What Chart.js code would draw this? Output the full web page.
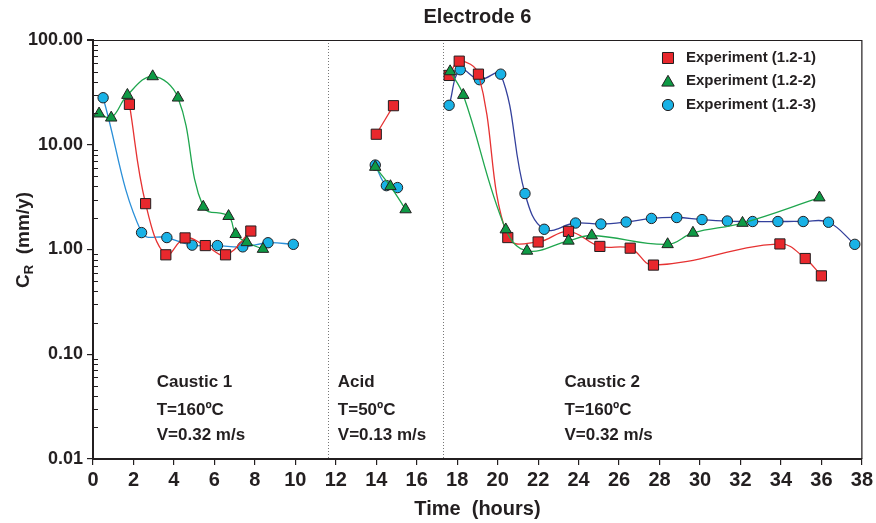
<!DOCTYPE html>
<html><head><meta charset="utf-8">
<script src="https://cdn.jsdelivr.net/npm/chart.js@4.4.1/dist/chart.umd.min.js"></script>
<style>html,body{margin:0;padding:0;background:#fff}#wrap{width:876px;height:523px}</style>
</head><body><div id="wrap"><canvas id="c" width="876" height="523"></canvas></div>
<script>
// ---------------- DATA ----------------
const chartTitle = 'Electrode 6';
const seriesNames = ['Experiment (1.2-1)', 'Experiment (1.2-2)', 'Experiment (1.2-3)'];
const phaseBoundaries = [11.6, 17.3];
const xTickValues = [0,2,4,6,8,10,12,14,16,18,20,22,24,26,28,30,32,34,36,38];
const yTickValues = [0.01, 0.1, 1, 10, 100];
const yTickLabels = ['0.01', '0.10', '1.00', '10.00', '100.00'];
const phaseTexts = [
  ['Caustic 1', 'T=160ºC', 'V=0.32 m/s'],
  ['Acid', 'T=50ºC', 'V=0.13 m/s'],
  ['Caustic 2', 'T=160ºC', 'V=0.32 m/s']
];

// Experiment (1.2-1)
const exp1Caustic1Time = [1.8, 2.6, 3.6, 4.55, 5.55, 6.55, 7.8];
const exp1Caustic1Rate = [24.3, 2.74, 0.89, 1.29, 1.09, 0.89, 1.50];
const exp1AcidTime = [14.0, 14.85];
const exp1AcidRate = [12.6, 23.6];
const exp1Caustic2Time = [17.6, 18.1, 19.05, 20.5, 22.0, 23.5, 25.05, 26.55, 27.7, 33.95, 35.2, 36.0];
const exp1Caustic2Rate = [45.9, 62.8, 47.2, 1.30, 1.18, 1.49, 1.07, 1.03, 0.71, 1.13, 0.82, 0.56];

// Experiment (1.2-2)
const exp2Caustic1Time = [0.3, 0.9, 1.7, 2.95, 4.2, 5.45, 6.7, 7.05, 7.6, 8.4];
const exp2Caustic1Rate = [19.8, 18.1, 29.8, 44.9, 28.1, 2.55, 2.08, 1.40, 1.17, 1.01];
const exp2AcidTime = [13.95, 14.7, 15.45];
const exp2AcidRate = [6.13, 4.01, 2.41];
const exp2Caustic2Time = [17.65, 18.3, 20.4, 21.45, 23.5, 24.65, 28.4, 29.65, 32.1, 35.9];
const exp2Caustic2Rate = [50.1, 29.8, 1.55, 0.97, 1.21, 1.36, 1.12, 1.44, 1.79, 3.13];

// Experiment (1.2-3)
const exp3Caustic1Time = [0.5, 2.4, 3.65, 4.9, 6.15, 7.4, 8.65, 9.9];
const exp3Caustic1Rate = [28.1, 1.45, 1.30, 1.10, 1.09, 1.06, 1.16, 1.12];
const exp3AcidTime = [13.95, 14.5, 15.05];
const exp3AcidRate = [6.40, 4.07, 3.90];
const exp3Caustic2Time = [17.6, 18.15, 19.1, 20.15, 21.35, 22.3, 23.85, 25.1, 26.35, 27.6, 28.85, 30.1, 31.35, 32.6, 33.85, 35.1, 36.35, 37.65];
const exp3Caustic2Rate = [23.8, 52.0, 41.8, 47.2, 3.42, 1.56, 1.79, 1.75, 1.83, 1.98, 2.02, 1.93, 1.87, 1.85, 1.85, 1.85, 1.82, 1.12];

// ---------------- STYLES ----------------
const INK = '#231f20';
const styles = [
  {shape:'rect', fill:'#e8282d', line:['#e63232','#e63232','#e63232'], radius:7.2, order:1},
  {shape:'triangle', fill:'#0e9a45', line:['#1fa64e','#1fa64e','#1fa64e'], radius:6.6, order:0},
  {shape:'circle', fill:'#19b2e6', line:['#2a8fd8','#2a8fd8','#33409c'], radius:5.2, order:2}
];
const seriesData = [
  [[exp1Caustic1Time, exp1Caustic1Rate],[exp1AcidTime, exp1AcidRate],[exp1Caustic2Time, exp1Caustic2Rate]],
  [[exp2Caustic1Time, exp2Caustic1Rate],[exp2AcidTime, exp2AcidRate],[exp2Caustic2Time, exp2Caustic2Rate]],
  [[exp3Caustic1Time, exp3Caustic1Rate],[exp3AcidTime, exp3AcidRate],[exp3Caustic2Time, exp3Caustic2Rate]]
];

const datasets = [];
seriesData.forEach((segs, si) => {
  const st = styles[si];
  segs.forEach((seg, j) => {
    datasets.push({
      label: seriesNames[si],
      data: seg[0].map((x, i) => ({x: x, y: seg[1][i]})),
      borderColor: st.line[j],
      borderWidth: 1.3,
      tension: 0.4,
      fill: false,
      pointStyle: st.shape,
      pointRadius: st.radius,
      pointBackgroundColor: st.fill,
      pointBorderColor: INK,
      pointBorderWidth: 1,
      order: st.order
    });
  });
});

const SANS = "'Liberation Sans', Arial, sans-serif";

function drawMarker(ctx, shape, x, y, r, fill) {
  ctx.save();
  ctx.fillStyle = fill; ctx.strokeStyle = INK; ctx.lineWidth = 1;
  ctx.beginPath();
  if (shape === 'rect') {
    const s = r * Math.SQRT1_2;
    ctx.rect(x - s, y - s, 2 * s, 2 * s);
  } else if (shape === 'triangle') {
    ctx.moveTo(x, y - r);
    ctx.lineTo(x + r * Math.sin(Math.PI * 2 / 3), y - r * Math.cos(Math.PI * 2 / 3));
    ctx.lineTo(x + r * Math.sin(Math.PI * 4 / 3), y - r * Math.cos(Math.PI * 4 / 3));
    ctx.closePath();
  } else {
    ctx.arc(x, y, r, 0, Math.PI * 2);
  }
  ctx.fill(); ctx.stroke();
  ctx.restore();
}

const decor = {
  id: 'decor',
  beforeDatasetsDraw(chart) {
    const ctx = chart.ctx, a = chart.chartArea, xs = chart.scales.x;
    ctx.save();
    ctx.strokeStyle = '#777'; ctx.lineWidth = 1; ctx.setLineDash([1, 2]);
    phaseBoundaries.forEach(b => {
      const px = Math.round(xs.getPixelForValue(b)) + 0.5;
      ctx.beginPath(); ctx.moveTo(px, a.top); ctx.lineTo(px, a.bottom); ctx.stroke();
    });
    ctx.restore();
  },
  afterDraw(chart) {
    const ctx = chart.ctx, a = chart.chartArea, xs = chart.scales.x, ys = chart.scales.y;
    ctx.save();
    // frame top/right
    ctx.strokeStyle = INK; ctx.lineWidth = 1.2;
    ctx.beginPath();
    ctx.moveTo(a.left - 6, a.top + 0.5); ctx.lineTo(a.right, a.top + 0.5); ctx.lineTo(a.right, a.bottom);
    ctx.stroke();
    // minor ticks inward
    ctx.lineWidth = 1;
    for (let d = -2; d < 2; d++) {
      for (let m = 2; m <= 9; m++) {
        const v = m * Math.pow(10, d);
        const py = Math.round(ys.getPixelForValue(v)) + 0.5;
        ctx.beginPath(); ctx.moveTo(a.left, py); ctx.lineTo(a.left + 5, py); ctx.stroke();
      }
    }
    // title
    ctx.fillStyle = INK;
    ctx.font = 'bold 20px ' + SANS;
    ctx.textAlign = 'center'; ctx.textBaseline = 'middle';
    ctx.fillText(chartTitle, (a.left + a.right) / 2, 17);
    // phase annotations
    ctx.font = 'bold 17px ' + SANS;
    ctx.textAlign = 'left';
    const phaseX = [3.15, 12.1, 23.3];
    const rowsY = [382, 410, 435];
    phaseTexts.forEach((lines, i) => {
      const px = xs.getPixelForValue(phaseX[i]);
      lines.forEach((t, k) => ctx.fillText(t, px, rowsY[k]));
    });
    // legend
    ctx.font = 'bold 15px ' + SANS;
    const legY = [58, 81, 105];
    const legR = [7.8, 7.2, 5.6];
    styles.forEach((st, i) => {
      drawMarker(ctx, st.shape, 668, legY[i] + (st.shape === 'triangle' ? 1.5 : 0), legR[i], st.fill);
      ctx.fillStyle = INK;
      ctx.fillText(seriesNames[i], 686, legY[i]);
    });
    // y axis title with subscript
    ctx.translate(22, 240);
    ctx.rotate(-Math.PI / 2);
    const fMain = 'bold 19px ' + SANS, fSub = 'bold 13px ' + SANS;
    ctx.font = fMain; const wC = ctx.measureText('C').width; const wRest = ctx.measureText('  (mm/y)').width;
    ctx.font = fSub; const wR = ctx.measureText('R').width;
    let x0 = -(wC + wR + wRest) / 2;
    ctx.textAlign = 'left'; ctx.textBaseline = 'alphabetic';
    ctx.font = fMain; ctx.fillText('C', x0, 7);
    ctx.font = fSub; ctx.fillText('R', x0 + wC, 11);
    ctx.font = fMain; ctx.fillText('  (mm/y)', x0 + wC + wR, 7);
    ctx.restore();
  }
};

new Chart(document.getElementById('c'), {
  type: 'line',
  data: { datasets: datasets },
  options: {
    responsive: false, animation: false, devicePixelRatio: 1,
    layout: { padding: { top: 40, right: 13, bottom: 0, left: 0 } },
    plugins: { legend: { display: false }, title: { display: false }, tooltip: { enabled: false } },
    scales: {
      x: {
        type: 'linear', min: 0, max: 38,
        afterBuildTicks: s => { s.ticks = xTickValues.map(v => ({ value: v })); },
        afterFit: s => { s.height = 64; },
        ticks: { callback: v => String(v), font: { family: SANS, weight: 'bold', size: 20 }, color: INK, padding: 3, maxRotation: 0, autoSkip: false },
        grid: { display: true, drawOnChartArea: false, drawTicks: true, tickLength: 6, color: INK, lineWidth: 1.2 },
        border: { display: true, color: INK, width: 2 },
        title: { display: true, text: 'Time  (hours)', font: { family: SANS, weight: 'bold', size: 20 }, color: INK, padding: { top: 0, bottom: 2 } }
      },
      y: {
        type: 'logarithmic', min: 0.01, max: 100,
        afterBuildTicks: s => { s.ticks = yTickValues.map(v => ({ value: v, major: true })); },
        afterFit: s => { s.width = 93; },
        ticks: {
          callback: v => { const i = yTickValues.findIndex(t => Math.abs(Math.log10(t) - Math.log10(v)) < 1e-6); return i >= 0 ? yTickLabels[i] : ''; },
          font: { family: SANS, weight: 'bold', size: 18 }, color: INK, padding: 4, autoSkip: false
        },
        grid: { display: true, drawOnChartArea: false, drawTicks: true, tickLength: 6, color: INK, lineWidth: 1.2 },
        border: { display: true, color: INK, width: 2 }
      }
    }
  },
  plugins: [decor]
});
</script></body></html>
